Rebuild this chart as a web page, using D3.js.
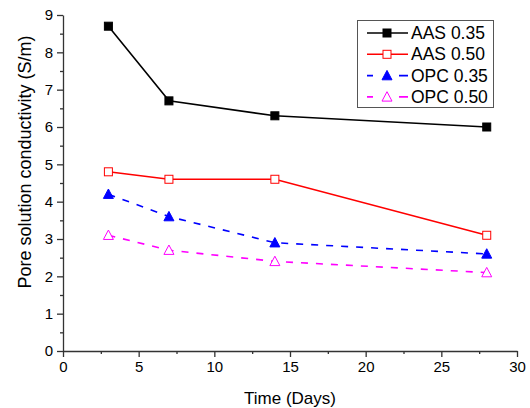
<!DOCTYPE html>
<html>
<head>
<meta charset="utf-8">
<script src="https://cdn.jsdelivr.net/npm/d3@7"></script>
<style>
  body { margin: 0; background: #fff; }
  text { font-family: "Liberation Sans", Arial, sans-serif; fill: #000; }
</style>
</head>
<body>
<div id="chart"></div>
<script>
// Chart data
const days = [3, 7, 14, 28];
const aas035 = [8.7, 6.7, 6.3, 6.0];
const aas050 = [4.8, 4.6, 4.6, 3.1];
const opc035 = [4.2, 3.6, 2.9, 2.6];
const opc050 = [3.1, 2.7, 2.4, 2.1];
const seriesNames = ['AAS 0.35', 'AAS 0.50', 'OPC 0.35', 'OPC 0.50'];
const xTicks = [0, 5, 10, 15, 20, 25, 30];
const yTicks = [0, 1, 2, 3, 4, 5, 6, 7, 8, 9];

const width = 530;
const height = 408;
const margin = { top: 15, right: 13, bottom: 57, left: 63 };

const series = [
  { name: seriesNames[0], values: aas035, color: '#000000', dash: null, shape: 'square', filled: true },
  { name: seriesNames[1], values: aas050, color: '#ff0000', dash: null, shape: 'square', filled: false },
  { name: seriesNames[2], values: opc035, color: '#0000ff', dash: '7,8', shape: 'triangle', filled: true },
  { name: seriesNames[3], values: opc050, color: '#ff00ff', dash: '7,8', shape: 'triangle', filled: false },
];

const svg = d3.select('#chart')
  .append('svg')
  .attr('width', width)
  .attr('height', height);

const x = d3.scaleLinear().domain([0, 30]).range([margin.left, width - margin.right]);
const y = d3.scaleLinear().domain([0, 9]).range([height - margin.bottom, margin.top]);

// minor ticks
svg.append('g')
  .attr('transform', `translate(0,${y(0)})`)
  .call(d3.axisBottom(x).tickValues(d3.range(2.5, 30, 5)).tickSize(3).tickFormat(''))
  .call(g => g.select('.domain').remove());
svg.append('g')
  .attr('transform', `translate(${x(0)},0)`)
  .call(d3.axisLeft(y).tickValues(d3.range(0.5, 9, 1)).tickSize(3).tickFormat(''))
  .call(g => g.select('.domain').remove());

// main axes
svg.append('g')
  .attr('transform', `translate(0,${y(0)})`)
  .call(d3.axisBottom(x).tickValues(xTicks).tickSize(6).tickSizeOuter(0).tickPadding(4))
  .call(g => g.selectAll('text').style('font-size', '15px'));
svg.append('g')
  .attr('transform', `translate(${x(0)},0)`)
  .call(d3.axisLeft(y).tickValues(yTicks).tickSize(6).tickSizeOuter(0).tickPadding(4))
  .call(g => g.selectAll('text').style('font-size', '15px'));

svg.selectAll('.domain, .tick line').attr('stroke', '#333').attr('stroke-width', 1.3);

// axis titles
svg.append('text')
  .attr('x', (x(0) + x(30)) / 2)
  .attr('y', 404)
  .attr('text-anchor', 'middle')
  .style('font-size', '17px')
  .text('Time (Days)');

svg.append('text')
  .attr('transform', `translate(31,162) rotate(-90)`)
  .attr('text-anchor', 'middle')
  .style('font-size', '18px')
  .text('Pore solution conductivity (S/m)');

function marker(sel, s, size) {
  if (s.shape === 'square') {
    sel.append('rect')
      .attr('x', -size / 2).attr('y', -size / 2)
      .attr('width', size).attr('height', size);
  } else {
    const h = size * 1.05;
    sel.append('path')
      .attr('d', `M0,${-h / 2 - 1}L${size / 2 + 1},${h / 2}L${-size / 2 - 1},${h / 2}Z`);
  }
  sel.selectAll('rect, path')
    .attr('fill', s.filled ? s.color : '#fff')
    .attr('stroke', s.color)
    .attr('stroke-width', 1);
}

const line = d3.line().x(d => x(d[0])).y(d => y(d[1]));

series.forEach(s => {
  const pts = days.map((d, i) => [d, s.values[i]]);
  svg.append('path')
    .datum(pts)
    .attr('fill', 'none')
    .attr('stroke', s.color)
    .attr('stroke-width', 1.6)
    .attr('stroke-dasharray', s.dash)
    .attr('d', line);
  svg.append('g')
    .selectAll('g')
    .data(pts)
    .join('g')
    .attr('transform', d => `translate(${x(d[0])},${y(d[1])})`)
    .each(function () { marker(d3.select(this), s, 8); });
});

// legend
const legend = svg.append('g');
legend.append('rect')
  .attr('x', 357.5).attr('y', 20.5)
  .attr('width', 136).attr('height', 87)
  .attr('fill', '#fff')
  .attr('stroke', '#555')
  .attr('stroke-width', 1);

series.forEach((s, i) => {
  const ly = 33 + i * 21.3;
  const row = legend.append('g');
  row.append('line')
    .attr('x1', 367).attr('x2', 408)
    .attr('y1', ly).attr('y2', ly)
    .attr('stroke', s.color)
    .attr('stroke-width', 1.6)
    .attr('stroke-dasharray', s.dash ? '6,26,9' : null);
  row.append('g')
    .attr('transform', `translate(387,${ly})`)
    .call(g => marker(g, s, 8));
  row.append('text')
    .attr('x', 411).attr('y', ly + 6)
    .style('font-size', '17.5px')
    .text(s.name);
});
</script>
</body>
</html>
